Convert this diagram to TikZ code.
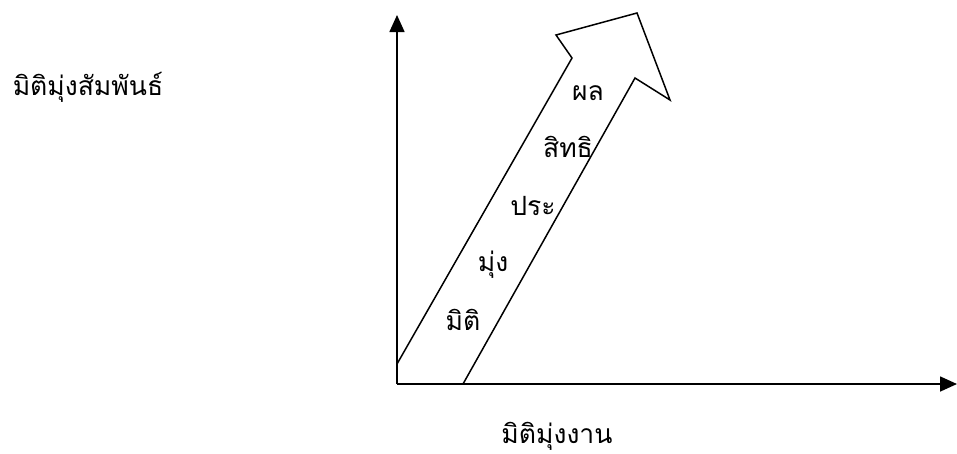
\documentclass[tikz,border=0pt]{standalone}
\usepackage{fontspec}
\newfontfamily\thaifont[Script=Thai]{Loma}
\usetikzlibrary{arrows.meta}
\begin{document}
\begin{tikzpicture}[x=1pt,y=-1pt,
  axis/.style={line width=1.6pt,-{Triangle[length=17pt,width=15pt]}},
  band/.style={line width=1.5pt,line join=miter},
  lbl/.style={anchor=base,inner sep=0pt,font=\thaifont\fontsize{26.5}{30}\selectfont}]
\useasboundingbox (0,0) rectangle (957,453);
\coordinate (O) at (397,384);
\coordinate (ytop) at (397,15);
\coordinate (xend) at (957,384);
\draw[axis] (O) -- (ytop);
\draw[axis] (O) -- (xend);
\coordinate (A) at (397,364);
\coordinate (B) at (572,58);
\coordinate (C) at (556,35);
\coordinate (D) at (637,13);
\coordinate (E) at (670,100);
\coordinate (F) at (635,78);
\coordinate (G) at (463,384);
\draw[band] (A) -- (B) -- (C) -- (D) -- (E) -- (F) -- (G);
\node[lbl] (t1) at (588,100) {ผล};
\node[lbl] (t2) at (568,157) {สิทธิ};
\node[lbl] (t3) at (533,215) {ประ};
\node[lbl] (t4) at (493,271) {มุ่ง};
\node[lbl] (t5) at (463,330) {มิติ};
\node[lbl] (ylab) at (88,95) {มิติมุ่งสัมพันธ์};
\node[lbl] (xlab) at (557,443) {มิติมุ่งงาน};
\end{tikzpicture}
\end{document}
